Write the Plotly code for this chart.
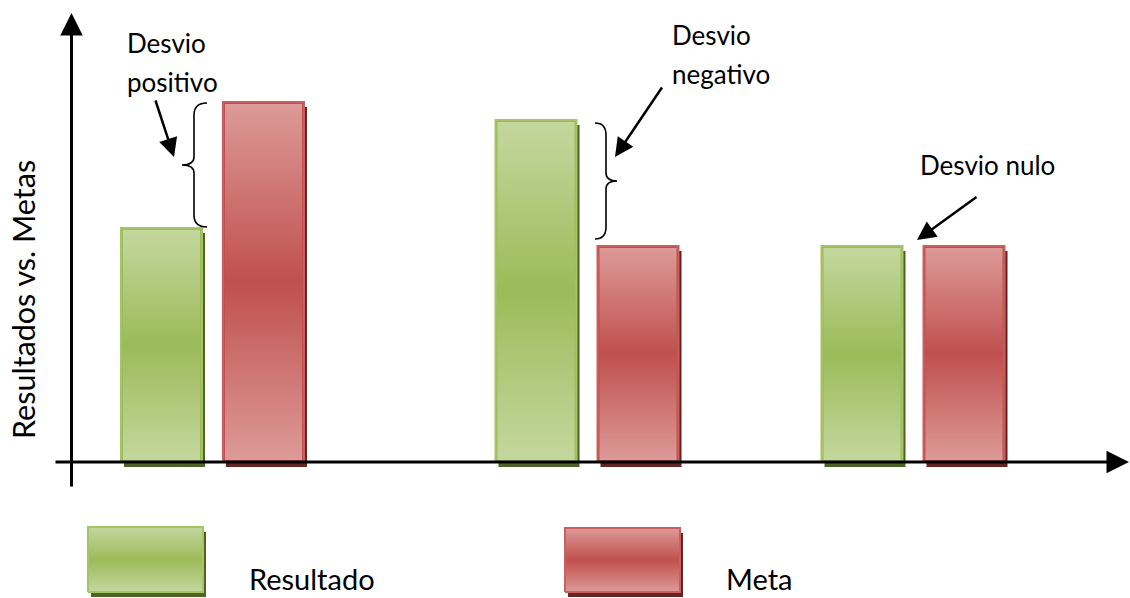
import plotly.graph_objects as go

# ---------------- data ----------------
categories = ["Desvio positivo", "Desvio negativo", "Desvio nulo"]
resultado = [65, 95, 60]
meta = [100, 60, 60]
series_names = ["Resultado", "Meta"]
axis_title = "Resultados vs. Metas"

# ---------------- layout helpers (pixel geometry) ----------------
W, H = 1130, 598
AX_Y = 462          # pixel row of the horizontal axis
PPU = 3.6           # pixels per data unit


def py(p):
    """pixel row -> y data value"""
    return (AX_Y - p) / PPU


group_centers = [212.5, 587, 913]
offset = 51
bar_w = 81
shadow_dx, shadow_dy = 3, 5

GREEN = dict(light="#c4d79e", mid="#9bbb59", border="#a5c463", shadow="#4f6228")
RED = dict(light="#dc9a98", mid="#c0504d", border="#c9605d", shadow="#632523")
FONT = "Lato"
FS = 26

fig = go.Figure()

series = [(resultado, GREEN, -offset, series_names[0]), (meta, RED, offset, series_names[1])]

# shadows
for vals, col, off, name in series:
    fig.add_trace(go.Bar(
        x=[c + off + shadow_dx for c in group_centers], y=vals, base=-shadow_dy / PPU,
        width=bar_w, marker=dict(color=col["shadow"], line=dict(width=0)),
        showlegend=False, hoverinfo="skip"))

# main bars
for vals, col, off, name in series:
    fig.add_trace(go.Bar(
        x=[c + off for c in group_centers], y=vals, width=bar_w, name=name,
        customdata=categories,
        marker=dict(color=col["mid"], line=dict(color=col["border"], width=2)),
        showlegend=False))

# gradient fill overlays for each bar
inset = 2.0
for vals, col, off, name in series:
    for c, v in zip(group_centers, vals):
        x0 = c + off - bar_w / 2 + inset
        x1 = c + off + bar_w / 2 - inset
        y0 = inset / PPU
        y1 = v - inset / PPU
        fig.add_trace(go.Scatter(
            x=[x0, x1, x1, x0, x0], y=[y0, y0, y1, y1, y0], mode="lines",
            fill="toself", line=dict(width=0, color=col["mid"]),
            fillgradient=dict(type="vertical",
                              colorscale=[[0, col["light"]], [0.5, col["mid"]], [1, col["light"]]]),
            showlegend=False, hoverinfo="skip"))

# legend keys (drawn boxes)
legend_boxes = [(88, 203, 527, 592, GREEN), (565, 680, 528, 592, RED)]
for x0, x1, t, b, col in legend_boxes:
    sx0, sx1 = x0 + shadow_dx, x1 + shadow_dx
    st, sb = py(t + shadow_dy), py(b + shadow_dy)
    fig.add_trace(go.Scatter(x=[sx0, sx1, sx1, sx0, sx0], y=[sb, sb, st, st, sb], mode="lines",
                             fill="toself", fillcolor=col["shadow"], line=dict(width=0),
                             showlegend=False, hoverinfo="skip"))
    yt, yb = py(t), py(b)
    fig.add_trace(go.Scatter(x=[x0, x1, x1, x0, x0], y=[yb, yb, yt, yt, yb], mode="lines",
                             fill="toself", line=dict(width=2, color=col["border"]),
                             fillgradient=dict(type="vertical",
                                               colorscale=[[0, col["light"]], [0.5, col["mid"]], [1, col["light"]]]),
                             showlegend=False, hoverinfo="skip"))

annotations = []


def arrow(x_tip, y_tip, x_tail, y_tail, width=2.5, size=1.5):
    annotations.append(dict(x=x_tip, y=py(y_tip), ax=x_tail, ay=py(y_tail), xref="x", yref="y",
                            axref="x", ayref="y", text="", showarrow=True, arrowhead=2,
                            arrowsize=size, arrowwidth=width, arrowcolor="black",
                            standoff=0, startstandoff=0))


# axes
arrow(71.5, 13, 71.5, 488, width=3, size=1.5)
arrow(1129, 462, 54, 462, width=3, size=1.5)

# pointer arrows
arrow(174, 157, 155, 99)
arrow(615, 157, 663, 86)
arrow(917, 240, 978, 196)


def text(s, x, y, anchor="left", angle=0, size=FS, yanchor="middle"):
    annotations.append(dict(x=x, y=py(y), xref="x", yref="y", text=s, showarrow=False,
                            xanchor=anchor, yanchor=yanchor, textangle=angle, borderpad=0,
                            font=dict(family=FONT, size=size, color="black")))


label_lines = [("Desvio", 126, 43), ("positivo", 126, 82),
               ("Desvio", 671, 35), ("negativo", 671, 74),
               ("Desvio nulo", 919, 165)]
for s, x, y in label_lines:
    text(s, x, y)

text(series_names[0], 248, 597, size=29, yanchor="bottom")
text(series_names[1], 725, 597, size=29, yanchor="bottom")
text(axis_title, 23, 300, anchor="center", angle=-90, size=30.5)

# braces
shapes = []


def brace_path(pts):
    out = []
    for cmd in pts:
        if cmd[0] in ("M", "L"):
            out.append(f"{cmd[0]} {cmd[1]} {py(cmd[2])}")
        else:
            out.append(f"Q {cmd[1]} {py(cmd[2])} {cmd[3]} {py(cmd[4])}")
    return " ".join(out)


pos_brace = [("M", 207, 103), ("Q", 194, 103, 194, 115), ("L", 194, 157),
             ("Q", 194, 165, 182, 165), ("Q", 194, 165, 194, 173), ("L", 194, 215),
             ("Q", 194, 227, 207, 227)]
neg_brace = [("M", 595, 123), ("Q", 606, 123, 606, 135), ("L", 606, 173),
             ("Q", 606, 181, 617, 181), ("Q", 606, 181, 606, 189), ("L", 606, 227),
             ("Q", 606, 239, 595, 239)]
for b in (pos_brace, neg_brace):
    shapes.append(dict(type="path", xref="x", yref="y", path=brace_path(b),
                       line=dict(color="black", width=1.6)))

fig.update_layout(
    width=W, height=H, margin=dict(l=0, r=0, t=0, b=0),
    paper_bgcolor="white", plot_bgcolor="white",
    barmode="overlay", showlegend=False,
    xaxis=dict(range=[0, W], visible=False, fixedrange=True),
    yaxis=dict(range=[py(H), py(0)], visible=False, fixedrange=True),
    annotations=annotations, shapes=shapes,
)

fig.write_html("out.html")
